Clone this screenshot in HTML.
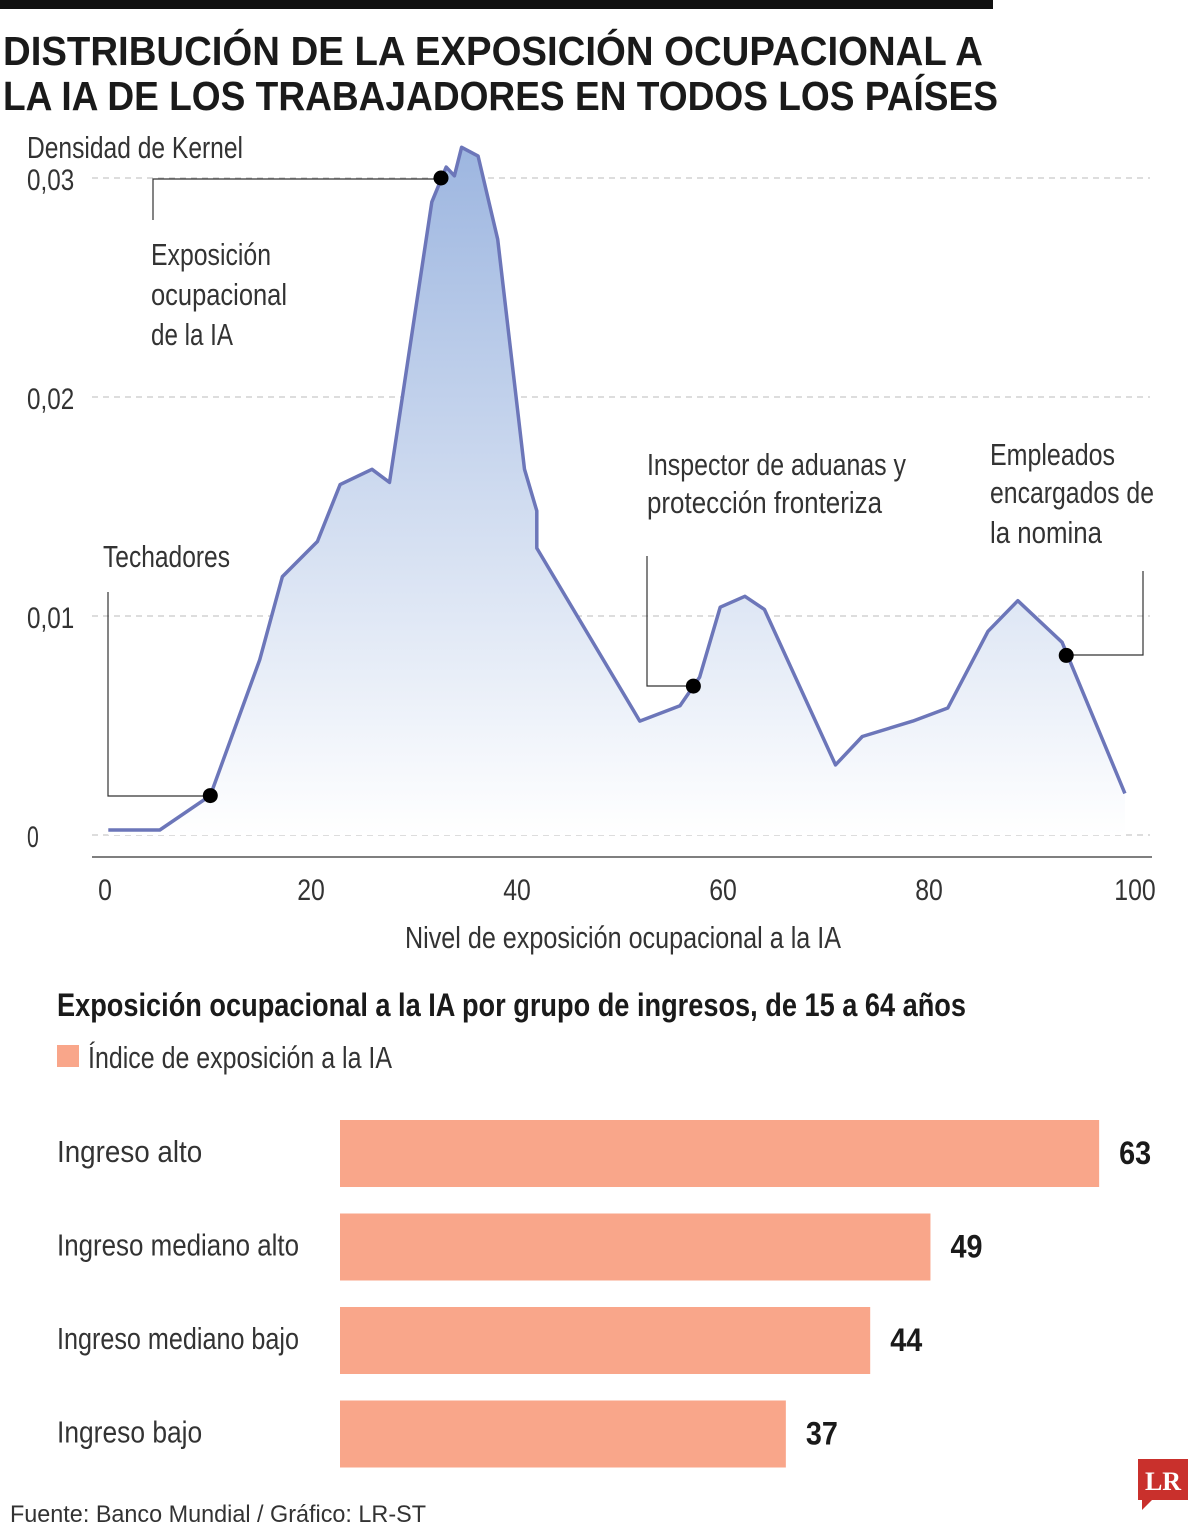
<!DOCTYPE html>
<html><head><meta charset="utf-8"><style>
html,body{margin:0;padding:0;background:#fff;}
svg{display:block;font-family:"Liberation Sans",sans-serif;}
</style></head><body>
<svg id="chart" width="1200" height="1532" viewBox="0 0 1200 1532" xmlns="http://www.w3.org/2000/svg">
<defs>
<linearGradient id="fillGrad" x1="0" y1="0" x2="0" y2="1">
<stop offset="0" stop-color="#9db6e0"/>
<stop offset="1" stop-color="#ffffff"/>
</linearGradient>
</defs>
<rect x="0" y="0" width="993" height="9" fill="#111"/>
<text x="3" y="65" font-size="41" font-weight="bold" fill="#1a1a1a" textLength="980" lengthAdjust="spacingAndGlyphs">DISTRIBUCIÓN DE LA EXPOSICIÓN OCUPACIONAL A</text>
<text x="3" y="110" font-size="41" font-weight="bold" fill="#1a1a1a" textLength="995" lengthAdjust="spacingAndGlyphs">LA IA DE LOS TRABAJADORES EN TODOS LOS PAÍSES</text>
<text x="27" y="158" font-size="31" fill="#333" textLength="216" lengthAdjust="spacingAndGlyphs">Densidad de Kernel</text>
<g id="grid"></g>
<g id="area"></g>
<line x1="92" y1="857" x2="1152" y2="857" stroke="#555" stroke-width="1.5"/>
<g id="xticks"></g>
<text x="405" y="948" font-size="31" fill="#333" textLength="436" lengthAdjust="spacingAndGlyphs">Nivel de exposición ocupacional a la IA</text>
<g id="annotations" fill="none" stroke="#333" stroke-width="1.2">
<polyline points="153,220 153,179 440,179"/>
<polyline points="108,592 108,796 211,796"/>
<polyline points="647,556 647,686 690,686"/>
<polyline points="1143,571 1143,655 1066,655"/>
</g>
<g id="dots"></g>
<g font-size="31" fill="#333">
<text x="151" y="265" textLength="120" lengthAdjust="spacingAndGlyphs">Exposición</text>
<text x="151" y="305" textLength="136" lengthAdjust="spacingAndGlyphs">ocupacional</text>
<text x="151" y="345" textLength="82" lengthAdjust="spacingAndGlyphs">de la IA</text>
<text x="103" y="567" textLength="127" lengthAdjust="spacingAndGlyphs">Techadores</text>
<text x="647" y="475" textLength="259" lengthAdjust="spacingAndGlyphs">Inspector de aduanas y</text>
<text x="647" y="513" textLength="235" lengthAdjust="spacingAndGlyphs">protección fronteriza</text>
<text x="990" y="465" textLength="125" lengthAdjust="spacingAndGlyphs">Empleados</text>
<text x="990" y="503" textLength="164" lengthAdjust="spacingAndGlyphs">encargados de</text>
<text x="990" y="543" textLength="112" lengthAdjust="spacingAndGlyphs">la nomina</text>
</g>
<text x="57" y="1016" font-size="32" font-weight="bold" fill="#1a1a1a" textLength="909" lengthAdjust="spacingAndGlyphs">Exposición ocupacional a la IA por grupo de ingresos, de 15 a 64 años</text>
<rect x="57" y="1045" width="22" height="22" fill="#f9a68a"/>
<text x="88" y="1068" font-size="31" fill="#333" textLength="304" lengthAdjust="spacingAndGlyphs">Índice de exposición a la IA</text>
<g id="bars"></g>
<text x="10" y="1522" font-size="24" fill="#333" textLength="416" lengthAdjust="spacingAndGlyphs">Fuente: Banco Mundial / Gráfico: LR-ST</text>
<g>
<path d="M1138,1459 H1188 V1500 H1152 L1142,1510 V1500 H1138 Z" fill="#c9302c"/>
<text x="1163" y="1490" font-size="26" font-weight="bold" fill="#fff" text-anchor="middle" font-family="Liberation Serif,serif">LR</text>
</g>
</svg>
<script>
const xValues=[1.1,6.1,11.0,15.8,18,21.4,23.6,26.7,28.4,32.5,33.9,34.7,35.4,37,38.9,41.5,42.7,42.7,52.7,56.6,58.5,60.5,62.9,64.8,71.7,74.3,79.2,82.6,86.5,89.4,93.7,99.8];
const densityValues=[0.00023,0.00023,0.0018,0.008,0.0118,0.0134,0.016,0.0167,0.0161,0.0289,0.0305,0.0301,0.0314,0.0310,0.0272,0.0167,0.0148,0.0131,0.0052,0.0059,0.0072,0.0104,0.0109,0.0103,0.0032,0.0045,0.0052,0.0058,0.0093,0.0107,0.0088,0.0019];
const dotX=[11.0,33.4,57.9,94.1];
const dotY=[0.0018,0.0300,0.0068,0.0082];
const yTicks=[0,0.01,0.02,0.03];
const yTickLabels=["0","0,01","0,02","0,03"];
const xTicks=[0,20,40,60,80,100];
const xTickLabels=["0","20","40","60","80","100"];
const barCategories=["Ingreso alto","Ingreso mediano alto","Ingreso mediano bajo","Ingreso bajo"];
const barValues=[63,49,44,37];

const NS="http://www.w3.org/2000/svg";
const xs=v=>97+10.3*v;
const ys=v=>835-v*21900;
const bx=v=>340+12.05*v;
function mk(tag,attrs,parent){const e=document.createElementNS(NS,tag);for(const k in attrs)e.setAttribute(k,attrs[k]);parent.appendChild(e);return e;}

const grid=document.getElementById('grid');
yTicks.forEach((t,i)=>{
  const l=mk('line',{x1:92,x2:1150,y1:ys(t),y2:ys(t),stroke:'#bbb','stroke-width':1,'stroke-dasharray':'6,5'},grid);
  
  
  const tx=mk('text',{x:27,y:ys(t)+12,'font-size':30,fill:'#333',textLength:yTickLabels[i].length*11.8,lengthAdjust:'spacingAndGlyphs'},grid);
  tx.textContent=yTickLabels[i];
  
  
});
const xt=document.getElementById('xticks');
xTicks.forEach((t,i)=>{
  const w=xTickLabels[i].length*13.8;
  const tx=mk('text',{x:xs(t)+8-w/2,y:900,'font-size':30,fill:'#333',textLength:w,lengthAdjust:'spacingAndGlyphs'},xt);
  tx.textContent=xTickLabels[i];
  
  
});
const area=document.getElementById('area');
const pts=xValues.map((x,i)=>xs(x).toFixed(1)+','+ys(densityValues[i]).toFixed(1));
const fillPath=mk('path',{d:'M'+xs(xValues[0])+','+ys(0)+' L'+pts.join(' L')+' L'+xs(xValues[xValues.length-1])+','+ys(0)+' Z',fill:'url(#fillGrad)'},area);


const line=mk('polyline',{points:pts.join(' '),fill:'none',stroke:'#6c76b9','stroke-width':3.5,'stroke-linejoin':'round'},area);


const dots=document.getElementById('dots');
dotX.forEach((x,i)=>{
  const c=mk('circle',{cx:xs(x),cy:ys(dotY[i]),r:7.5,fill:'#000'},dots);
  
  
});
const bars=document.getElementById('bars');
barCategories.forEach((c,i)=>{
  const y0=1120+i*93.5;
  const r=mk('rect',{x:340,y:y0,width:bx(barValues[i])-340,height:67,fill:'#f9a68a'},bars);
  
  
  const lbl=mk('text',{x:57,y:y0+42,'font-size':31,fill:'#333',textLength:c.length*12.1,lengthAdjust:'spacingAndGlyphs'},bars);
  lbl.textContent=c;
  
  
  const v=mk('text',{x:bx(barValues[i])+20,y:y0+44,'font-size':32,'font-weight':'bold',fill:'#1a1a1a',textLength:32,lengthAdjust:'spacingAndGlyphs'},bars);
  v.textContent=barValues[i];
  
  
});
</script>
</body></html>
